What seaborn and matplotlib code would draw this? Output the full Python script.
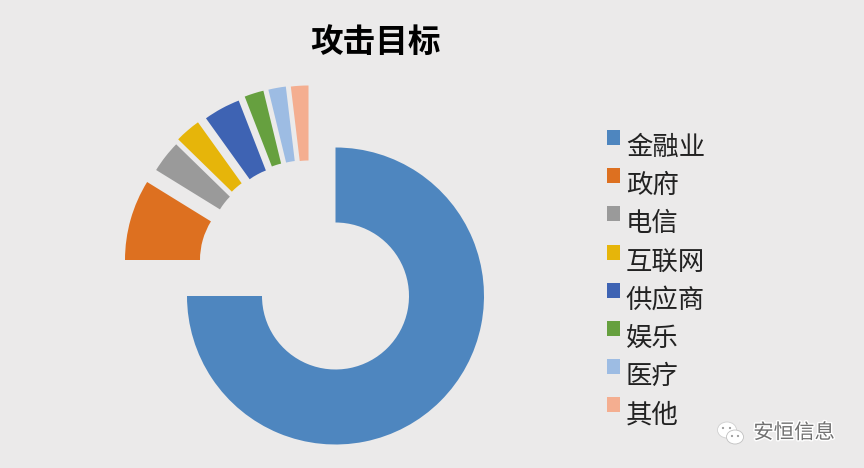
import matplotlib
matplotlib.use('Agg')
import matplotlib.pyplot as plt
from matplotlib.patches import Ellipse, Circle
import matplotlib.patheffects as pe
import seaborn as sns

# share of each attack target
targets = ['金融业', '政府', '电信', '互联网', '供应商', '娱乐', '医疗', '其他']
shares = [75.0, 8.8, 3.5, 2.8, 4.0, 2.1, 1.9, 1.9]
colors = ['#4E86BF', '#DD7020', '#9A9A9A', '#E6B50A', '#3E63B3', '#66A03F', '#9DBCE3', '#F4AE90']
title = '攻击目标'
watermark = '安恒信息'

# slices pulled out of the ring, shift in pixels from the ring centre
shift_x = [0, -62, -53, -51, -43, -37, -32, -27]
shift_y = [0, 36, 48, 53, 57, 61, 62, 62]

bg = '#EBEAEA'
sns.set_theme(style='white')
plt.rcParams['font.family'] = ['Noto Sans CJK SC', 'DejaVu Sans']

fig = plt.figure(figsize=(8.64, 4.68), dpi=100, facecolor=bg)
ax = fig.add_axes([0, 0, 1, 1], facecolor=bg)

wedges, _ = ax.pie(
    shares,
    colors=sns.color_palette(colors),
    startangle=90,
    counterclock=False,
    radius=148.5,
    wedgeprops={'width': 75, 'linewidth': 0},
)
for w, dx, dy in zip(wedges, shift_x, shift_y):
    w.set_center((dx, dy))

# axes units are pixels, ring centre at 335.5, 296
ax.set_xlim(-335.5, 528.5)
ax.set_ylim(-172, 296)
ax.set_aspect('equal')
ax.axis('off')

ax.text(375.5 - 335.5, 296 - 42, title, fontsize=23.5, fontweight='bold', color='black',
        ha='center', va='center')

leg = ax.legend(
    wedges, targets,
    loc='upper left',
    bbox_to_anchor=(0.7023, 0.714),
    frameon=False,
    fontsize=19,
    labelcolor='#222222',
    handlelength=0.5,
    handleheight=0.5,
    handletextpad=0.22,
    labelspacing=0.425,
    borderpad=0,
    borderaxespad=0,
)
# squares sit above the text middle in the reference
for h in leg.legend_handles:
    h.set_y(h.get_y() + 5.8)

# WeChat style watermark
halo = [pe.withStroke(linewidth=2, foreground='white')]
ax.text(794 - 335.5, 296 - 433, watermark, fontsize=14.7, color='#707070',
        ha='center', va='center', path_effects=halo)
ax.add_patch(Ellipse((727 - 335.5, 296 - 430), 19, 16, fc='white', ec='#D0D0D0', lw=0.6, zorder=3))
ax.add_patch(Ellipse((735 - 335.5, 296 - 437), 17, 14, fc='white', ec='#C0C0C0', lw=0.6, zorder=4))
for px, py in [(723, 428), (730, 428), (732, 436), (738, 436)]:
    ax.add_patch(Circle((px - 335.5, 296 - py), 1.1, fc='#9A9A9A', ec='none', zorder=5))

fig.savefig('out.png', dpi=100, facecolor=bg)
